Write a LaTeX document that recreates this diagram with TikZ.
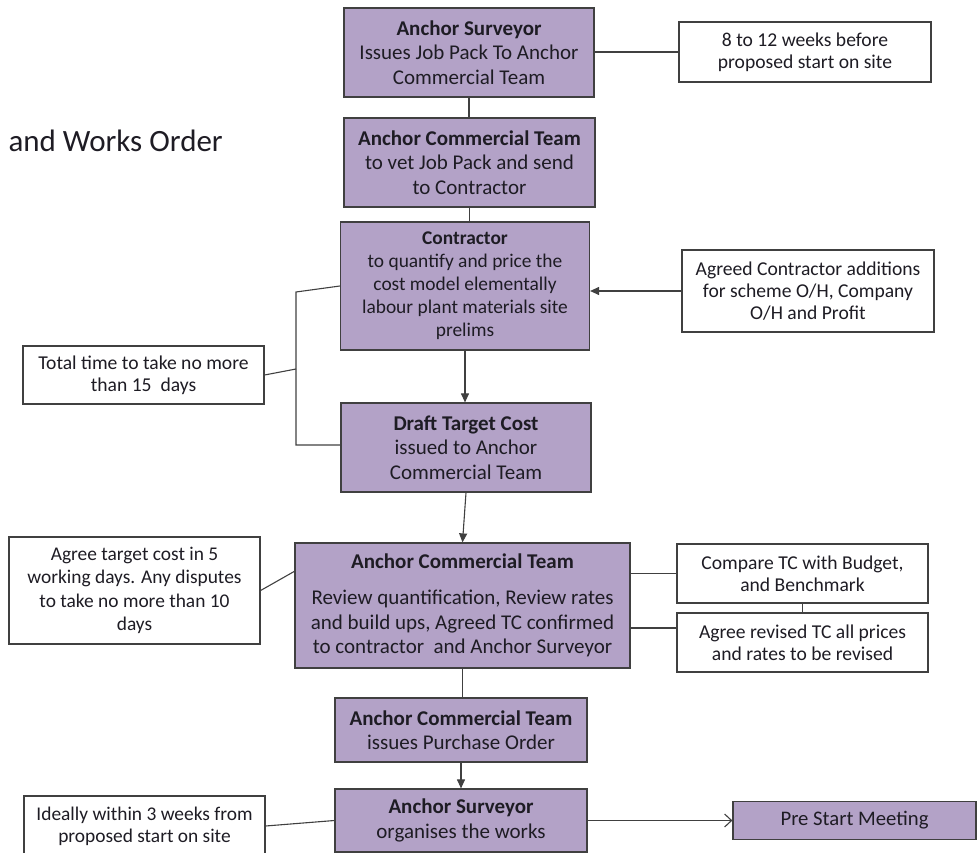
\documentclass[tikz,border=0pt]{standalone}
\usepackage{fontspec}
\setmainfont{Carlito}
\usetikzlibrary{arrows.meta}
\definecolor{boxfill}{RGB}{179,162,199}
\definecolor{edge}{RGB}{64,64,64}
\definecolor{ink}{RGB}{30,28,36}
\begin{document}
\begin{tikzpicture}[x=1pt,y=-1pt,
  mainbox/.style={draw=edge, line width=1.2pt, fill=boxfill, inner sep=0pt, align=center, text=ink,
    font=\fontsize{21}{24.5}\selectfont},
  notebox/.style={draw=edge, line width=1.2pt, fill=white, inner sep=0pt, align=center, text=ink,
    font=\fontsize{19.6}{22}\selectfont},
  link/.style={draw=edge, line width=1.1pt},
  farrow/.style={link, -{Triangle[length=9pt,width=8pt]}},
  oarrow/.style={link, -{Straight Barb[length=7pt,width=13pt,line width=1.1pt]}}
]
\useasboundingbox (0,0) rectangle (977,853);
\clip (0,0) rectangle (977,853);

\node[anchor=base west, font=\fontsize{31}{36}\selectfont, text=ink] (title) at (5,152) {and Works Order};

% main column
\node[mainbox, minimum width=250pt, minimum height=89pt] (b1) at (469,52.5)
  {\textbf{Anchor Surveyor}\\Issues Job Pack To Anchor\\Commercial Team};
\node[mainbox, minimum width=251pt, minimum height=89pt] (b2) at (469.5,162.5)
  {\textbf{Anchor Commercial Team}\\to vet Job Pack and send\\to Contractor};
\node[mainbox, minimum width=249pt, minimum height=128pt, font=\fontsize{19.4}{23}\selectfont] (b3) at (465,286)
  {\textbf{Contractor}\\to quantify and price the\\cost model elementally\\labour plant materials site\\prelims};
\node[mainbox, minimum width=250pt, minimum height=89pt] (b4) at (466,447.5)
  {\textbf{Draft Target Cost}\\issued to Anchor\\Commercial Team};
\node[mainbox, minimum width=335pt, minimum height=125pt] (b5) at (462.5,605.5)
  {\textbf{Anchor Commercial Team}\\[12pt]Review quantification, Review rates\\and build ups, Agreed TC confirmed\\to contractor\ \ and Anchor Surveyor};
\node[mainbox, minimum width=252pt, minimum height=64pt] (b6) at (461,730)
  {\textbf{Anchor Commercial Team}\\issues Purchase Order};
\node[mainbox, minimum width=252pt, minimum height=63pt] (b7) at (461,820.5)
  {\textbf{Anchor Surveyor}\\organises the works};
\node[mainbox, minimum width=243pt, minimum height=38pt, font=\fontsize{20.7}{23}\selectfont] (psm) at (854.5,820.5)
  {Pre Start Meeting};

% notes
\node[notebox, minimum width=252pt, minimum height=60pt] (wk) at (805,52)
  {8 to 12 weeks before\\proposed start on site};
\node[notebox, minimum width=252pt, minimum height=82pt] (add) at (808,291)
  {Agreed Contractor additions\\for scheme O/H, Company\\O/H and Profit};
\node[notebox, minimum width=241pt, minimum height=58pt] (tot) at (143.5,375)
  {Total time to take no more\\than 15\ \ days};
\node[notebox, minimum width=251pt, minimum height=107pt, font=\fontsize{19.4}{23.5}\selectfont] (atc) at (134.5,590.5)
  {Agree target cost in 5\\working days. Any disputes\\to take no more than 10\\days};
\node[notebox, minimum width=251pt, minimum height=59pt] (cmp) at (802.5,573.5)
  {Compare TC with Budget,\\and Benchmark};
\node[notebox, minimum width=251pt, minimum height=59pt] (rev) at (802.5,642.5)
  {Agree revised TC all prices\\and rates to be revised};
\node[notebox, minimum width=241pt, minimum height=60pt, font=\fontsize{19.4}{22}\selectfont] (ide) at (144.5,826)
  {Ideally within 3 weeks from\\proposed start on site};

% helper coordinates
\coordinate (brt) at (296,292);
\coordinate (brm) at (296,369);
\coordinate (brb) at (296,445);
\coordinate (atcend) at (295,571);
\coordinate (yrev) at (0,628);

% connectors
\draw[link] (b1.south) -- (b1.south |- b2.north);
\draw[link] (b2.south) -- (b2.south |- b3.north);
\draw[farrow] (b3.south) -- (b3.south |- b4.north);
\draw[farrow] (b4.south) -- (b5.north);
\draw[link] (b5.south) -- (b5.south |- b6.north);
\draw[farrow] (b6.south) -- (b7.north);
\draw[oarrow] (b7.east) -- (psm.west);

\draw[link] (wk.west) -- (wk.west -| b1.east);
\draw[farrow] (add.west) -- (add.west -| b3.east);
\draw[link] (b3.west) -- (brt) -- (brb) -- (brb -| b4.west);
\draw[link] (tot.east) -- (brm);
\draw[link] (atc.east) -- (atcend);
\draw[link] (cmp.west) -- (cmp.west -| b5.east);
\draw[link] (yrev -| b5.east) -- (yrev -| rev.west);
\draw[link] (cmp.south) -- (rev.north);
\draw[link] (ide.east) -- (b7.west);
\end{tikzpicture}
\end{document}
